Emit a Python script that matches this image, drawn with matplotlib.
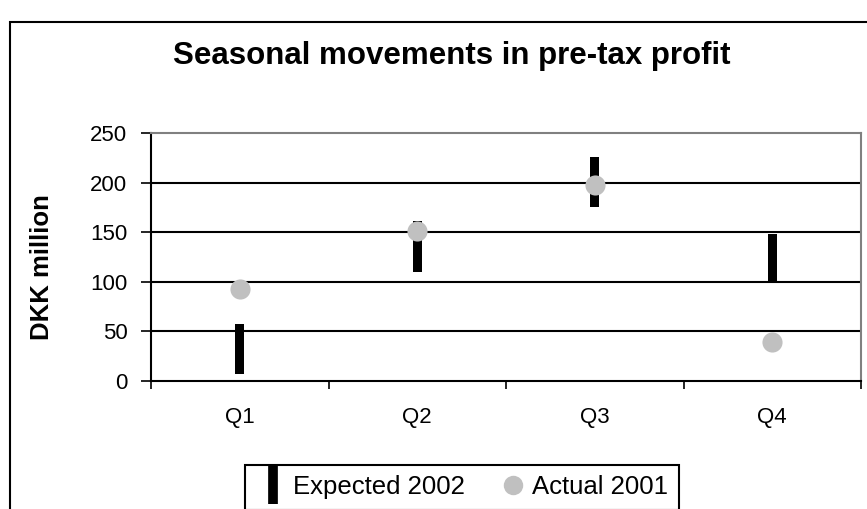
import matplotlib
matplotlib.use("Agg")
import matplotlib.pyplot as plt
from matplotlib.lines import Line2D
from matplotlib.patches import Rectangle
import numpy as np

plt.rcParams['font.family'] = ['Liberation Sans', 'DejaVu Sans']

categories = ["Q1", "Q2", "Q3", "Q4"]
expected_low = [7, 110, 175, 100]
expected_high = [57, 161, 226, 148]
actual_2001 = [93, 151, 198, 39]
y_ticks = [0, 50, 100, 150, 200, 250]

W, H = 867, 509
fig = plt.figure(figsize=(W / 100, H / 100), dpi=100)
ax = fig.add_axes([151 / W, 1 - 381 / H, (861 - 151) / W, (381 - 133) / H])

x = np.arange(len(categories))
heights = [h - l for h, l in zip(expected_high, expected_low)]
ax.bar(x, heights, bottom=expected_low, width=0.05, color='black', zorder=3)
ax.scatter(x, actual_2001, s=210, color='#c0c0c0', zorder=4, linewidths=0)

ax.set_xlim(-0.5, 3.5)
ax.set_ylim(0, 250)
ax.set_yticks(y_ticks)
ax.set_xticks(x)
ax.set_xticklabels(categories, fontsize=16)
ax.set_xticks(np.arange(-0.5, 4.0, 1.0), minor=True)
ax.tick_params(axis='x', which='major', length=0, pad=19)
ax.tick_params(axis='x', which='minor', length=6, width=1.2, direction='out')
ax.tick_params(axis='y', length=7, width=1.2, direction='out', labelsize=16, pad=10)

for v in y_ticks[1:-1]:
    ax.axhline(v, color='black', lw=1.5, zorder=1)
ax.spines['left'].set_color('black')
ax.spines['left'].set_linewidth(1.5)
ax.spines['bottom'].set_color('black')
ax.spines['bottom'].set_linewidth(1.5)
ax.spines['top'].set_color('#808080')
ax.spines['top'].set_linewidth(1.5)
ax.spines['right'].set_color('#808080')
ax.spines['right'].set_linewidth(1.5)

ax.set_ylabel("DKK million", fontsize=18.5, fontweight='bold', va='center', ha='center')
ax.yaxis.set_label_coords((42 - 151) / 710, (381 - 267) / 248)

fig.text(452 / W, 1 - 56 / H, "Seasonal movements in pre-tax profit",
         fontsize=22.5, fontweight='bold', ha='center', va='center')

border = Rectangle((10 / W, -0.05), 1.1, 1 - 22 / H + 0.05, transform=fig.transFigure,
                   fill=False, edgecolor='black', lw=1.5, clip_on=False)
fig.add_artist(border)

handles = [
    Line2D([], [], color='black', marker='|', linestyle='None', markersize=27, markeredgewidth=7),
    Line2D([], [], color='#c0c0c0', marker='o', linestyle='None', markersize=14, markeredgewidth=0),
]
leg = fig.legend(handles, ["Expected 2002", "Actual 2001"], loc='upper left',
                 bbox_to_anchor=(245 / W, 1 - 465 / H), ncol=2, fontsize=18.5,
                 frameon=True, fancybox=False, edgecolor='black', framealpha=1,
                 handlelength=1.4, handletextpad=0.05, columnspacing=1.2,
                 borderpad=0.4, borderaxespad=0)
leg.get_frame().set_linewidth(1.5)

fig.savefig("out.png", dpi=100)
